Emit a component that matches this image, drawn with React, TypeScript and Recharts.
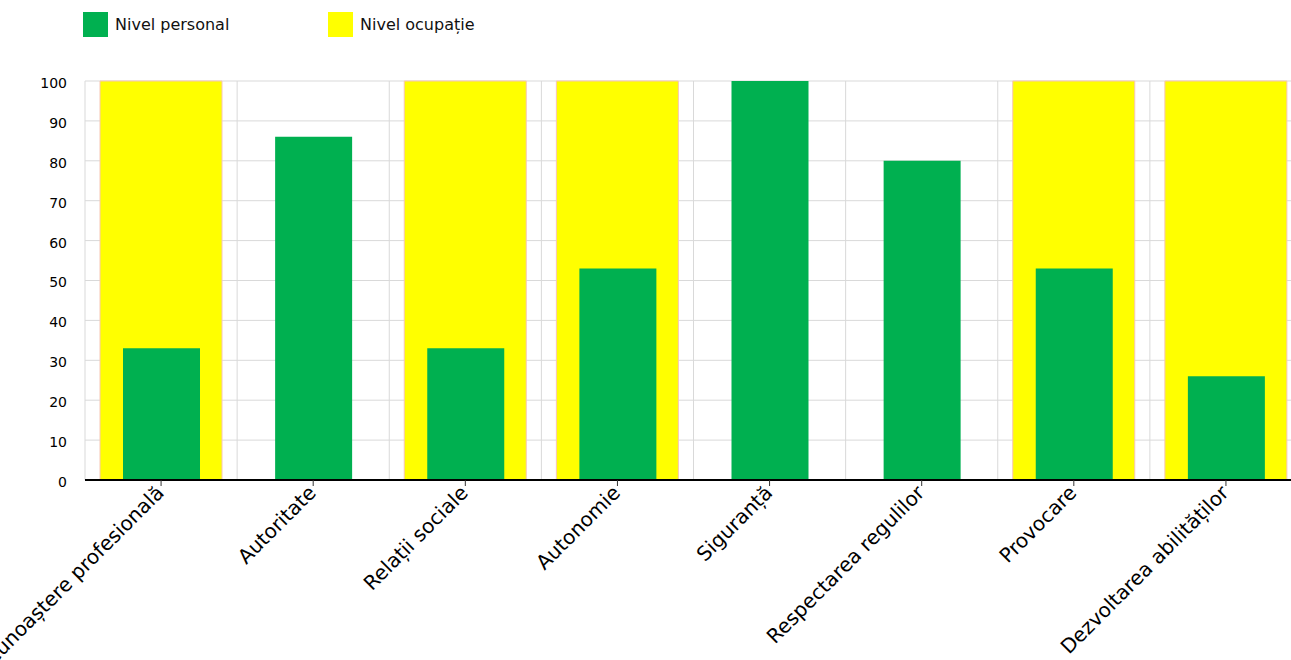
import { BarChart, Bar, XAxis, YAxis, CartesianGrid } from 'recharts'

const categories = [
  'Recunoaștere profesională',
  'Autoritate',
  'Relații sociale',
  'Autonomie',
  'Siguranță',
  'Respectarea regulilor',
  'Provocare',
  'Dezvoltarea abilităților',
]
const nivelPersonal = [33, 86, 33, 53, 100, 80, 53, 26]
const nivelOcupatie = [100, 0, 100, 100, 0, 0, 100, 100]
const yTicks = [0, 10, 20, 30, 40, 50, 60, 70, 80, 90, 100]

const series = [
  { key: 'personal', name: 'Nivel personal', color: '#00b050' },
  { key: 'ocupatie', name: 'Nivel ocupație', color: '#ffff00' },
]

const chartData = categories.map((name, i) => ({
  name,
  personal: nivelPersonal[i],
  ocupatie: nivelOcupatie[i],
}))

const FONT = '"DejaVu Sans", Verdana, sans-serif'

function AngledTick(props: any) {
  const { x, y, payload } = props
  return (
    <g transform={`translate(${x + 4},${y + 6})`}>
      <text textAnchor="end" transform="rotate(-45)" fontSize={20} fontFamily={FONT} fill="#000">
        {payload.value}
      </text>
    </g>
  )
}

export default function App() {
  return (
    <div style={{ position: 'absolute', left: 0, top: 0, width: 1291, height: 660, overflow: 'hidden', background: '#fff' }}>
      {/* legend */}
      <div style={{ position: 'absolute', left: 83, top: 12, display: 'flex', fontFamily: FONT, fontSize: 16, color: '#111' }}>
        {series.map(s => (
          <div key={s.key} style={{ width: 245, display: 'flex', alignItems: 'center' }}>
            <span style={{ width: 25, height: 25, background: s.color, marginRight: 7, display: 'inline-block' }} />
            <span>{s.name}</span>
          </div>
        ))}
      </div>

      <BarChart
        width={1320}
        height={660}
        data={chartData}
        margin={{ top: 81, right: 18, left: 25, bottom: 30 }}
      >
        <CartesianGrid
          xAxisId="fg"
          stroke="#d9d9d9"
          verticalCoordinatesGenerator={({ offset }: any) =>
            Array.from({ length: categories.length + 1 }, (_, i) => offset.left + (i * offset.width) / categories.length)
          }
        />
        <XAxis xAxisId="bg" dataKey="name" orientation="top" height={0} hide />
        <XAxis
          xAxisId="fg"
          dataKey="name"
          interval={0}
          height={150}
          axisLine={{ stroke: '#000', strokeWidth: 2 }}
          tickLine={{ stroke: '#333' }}
          tickSize={6}
          tick={<AngledTick />}
        />
        <YAxis
          domain={[0, 100]}
          ticks={yTicks}
          width={60}
          axisLine={false}
          tickLine={false}
          tickSize={0}
          tickMargin={18}
          tick={{ fill: '#000', fontSize: 14, fontFamily: FONT, dy: 2 }}
        />
        <Bar
          xAxisId="bg"
          dataKey="ocupatie"
          name="Nivel ocupație"
          fill="#ffff00"
          stroke="#f7c6b4"
          strokeWidth={1}
          barSize={122}
          isAnimationActive={false}
        />
        <Bar
          xAxisId="fg"
          dataKey="personal"
          name="Nivel personal"
          fill="#00b050"
          barSize={77}
          isAnimationActive={false}
        />
      </BarChart>
    </div>
  )
}
